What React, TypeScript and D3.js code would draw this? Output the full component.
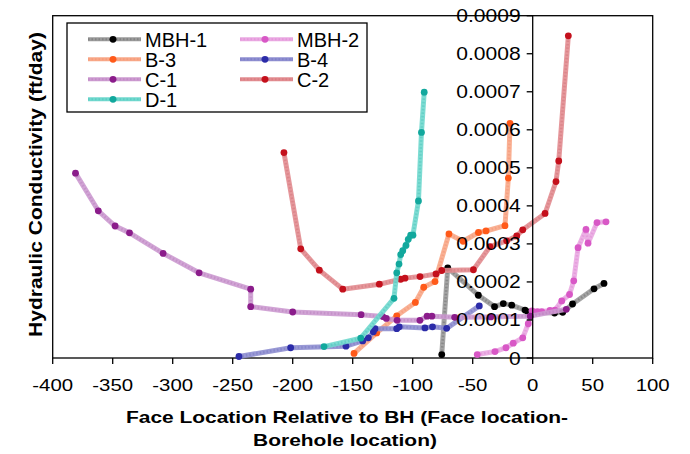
import React from "react";
import * as d3 from "d3";

// ---- data (x: face location relative to BH, y: hydraulic conductivity ft/day) ----
const mbh1X = [-75.8, -70.8, -45.3, -31.8, -24.5, -17.5, -6.4, -3.9, 18.2, 25, 33.2, 51.1, 59.4];
const mbh1Y = [0.000009, 0.000237, 0.000165, 0.000135, 0.000143, 0.000139, 0.000126, 0.000121, 0.000118, 0.00012, 0.000142, 0.000182, 0.000196];

const mbh2X = [-46.2, -31.4, -22.3, -16.2, -8.3, -3.7, -0.6, 4, 7.5, 14.4, 18.6, 24.2, 30.7, 34.2, 37.8, 44.4, 46.1, 53.6, 61.1];
const mbh2Y = [0.000009, 0.000017, 0.000027, 0.000039, 0.000053, 0.00009, 0.000124, 0.000122, 0.000122, 0.000125, 0.000126, 0.00015, 0.000167, 0.000203, 0.00029, 0.000338, 0.000302, 0.000356, 0.000358];

const b3X = [-148.9, -130, -113.3, -97.8, -90.8, -81.4, -69.8, -58, -45.2, -38.9, -23.1, -20.3, -18.9];
const b3Y = [0.000012, 0.000066, 0.000111, 0.000146, 0.000186, 0.000201, 0.000326, 0.000307, 0.00033, 0.000334, 0.000348, 0.000473, 0.000617];

const b4X = [-244.8, -201.7, -155.6, -141.7, -137, -132.8, -131.4, -113.3, -111.2, -89.8, -83.5, -71.7, -44.5];
const b4Y = [0.000004, 0.000027, 0.000031, 0.000045, 0.000053, 0.000069, 0.000077, 0.000077, 0.000082, 0.000079, 0.000082, 0.000078, 0.000137];

const c1X = [-381, -362, -348, -336, -308, -278, -235, -235, -200, -143, -125, -122, -113, -94, -88, -84, -65, -35, -2, 28];
const c1Y = [0.000486, 0.000387, 0.000347, 0.000329, 0.000275, 0.000224, 0.000181, 0.000135, 0.000121, 0.000114, 0.000109, 0.000104, 0.000099, 0.000099, 0.00011, 0.00011, 0.000107, 0.000108, 0.00011, 0.000128];

const c2X = [-207.3, -193.3, -177.8, -158.3, -127.8, -110, -106.4, -93.9, -80.6, -75.8, -49.4, -35.6, -21.7, -13.3, -8.3, 10.3, 19.4, 21.7, 29.7];
const c2Y = [0.00054, 0.000287, 0.000231, 0.000181, 0.000194, 0.000207, 0.00021, 0.000214, 0.000221, 0.00023, 0.000232, 0.000293, 0.000308, 0.000321, 0.000337, 0.00038, 0.000464, 0.000518, 0.000847];

const d1X = [-173.9, -143.3, -115.6, -113.3, -111.4, -110, -108.3, -105.6, -103.7, -101.7, -99.8, -95.2, -92.7, -90.4];
const d1Y = [0.00003, 0.000052, 0.000157, 0.000224, 0.000247, 0.000272, 0.000282, 0.000296, 0.000312, 0.000323, 0.000323, 0.000413, 0.000593, 0.000699];

const seriesNames = ["MBH-1", "MBH-2", "B-3", "B-4", "C-1", "C-2", "D-1"];
const xTicks = [-400, -350, -300, -250, -200, -150, -100, -50, 0, 50, 100];
const yTicks = [0, 0.0001, 0.0002, 0.0003, 0.0004, 0.0005, 0.0006, 0.0007, 0.0008, 0.0009];

const seriesData = [
  { name: "MBH-1", xs: mbh1X, ys: mbh1Y, line: "#9a9a9a", dash: "#6e6e6e", dot: "#000000" },
  { name: "MBH-2", xs: mbh2X, ys: mbh2Y, line: "#eaa8e2", dash: "#de8ad4", dot: "#d858c6" },
  { name: "B-3", xs: b3X, ys: b3Y, line: "#f8a888", dash: "#f59272", dot: "#ff5a1a" },
  { name: "B-4", xs: b4X, ys: b4Y, line: "#8e8ed0", dash: "#7676c2", dot: "#2b2ba8" },
  { name: "C-1", xs: c1X, ys: c1Y, line: "#cc9ad0", dash: "#b97fbe", dot: "#8b1c8b" },
  { name: "C-2", xs: c2X, ys: c2Y, line: "#e28c90", dash: "#d3737a", dot: "#c4101c" },
  { name: "D-1", xs: d1X, ys: d1Y, line: "#70d8ce", dash: "#4cc6bb", dot: "#12a89d" },
];

const W = 690;
const H = 454;
const plotL = 52.7, plotR = 652.7, plotT = 15.7, plotB = 358;

export default function App() {
  const x = d3.scaleLinear().domain([-400, 100]).range([plotL, plotR]);
  const y = d3.scaleLinear().domain([0, 0.0009]).range([plotB, plotT]);
  const line = d3.line<[number, number]>().x((d) => x(d[0])).y((d) => y(d[1]));
  const font = "'Liberation Sans', Arial, sans-serif";
  const yAxisX = x(0);

  const legendPos = seriesNames.map((n, i) => {
    const order = ["MBH-1", "MBH-2", "B-3", "B-4", "C-1", "C-2", "D-1"];
    const k = order.indexOf(n);
    return { col: k % 2, row: Math.floor(k / 2) };
  });

  return (
    <svg width={W} height={H} style={{ position: "absolute", left: 0, top: 0, background: "#fff" }} fontFamily={font}>
      <rect x={0} y={0} width={W} height={H} fill="#fff" />
      {/* frame */}
      <rect x={plotL} y={plotT} width={plotR - plotL} height={plotB - plotT} fill="none" stroke="#000" strokeWidth={1.3} />

      {/* series */}
      {seriesData.map((s) => {
        const pts = s.xs.map((v, i) => [v, s.ys[i]] as [number, number]);
        const p = line(pts) || "";
        return (
          <g key={s.name}>
            <path d={p} fill="none" stroke={s.line} strokeWidth={5} strokeLinejoin="round" opacity={0.9} />
            <path d={p} fill="none" stroke={s.dash} strokeWidth={2.5} strokeDasharray="1.5,2" opacity={0.5} />
            {pts.map((d, i) => (
              <circle key={i} cx={x(d[0])} cy={y(d[1])} r={3.4} fill={s.dot} />
            ))}
          </g>
        );
      })}

      {/* y axis at x=0 */}
      <line x1={yAxisX} x2={yAxisX} y1={plotT} y2={plotB} stroke="#000" strokeWidth={1.3} />
      {yTicks.map((t) => (
        <g key={t}>
          <line x1={yAxisX - 6} x2={yAxisX} y1={y(t)} y2={y(t)} stroke="#000" strokeWidth={1.3} />
          <text
            transform={`translate(${yAxisX - 12},${y(t) + 6.5}) scale(1.17,1)`}
            textAnchor="end"
            fontSize={18}
            fill="#000"
          >
            {t === 0 ? "0" : t.toFixed(4)}
          </text>
        </g>
      ))}

      {/* x axis ticks */}
      {xTicks.map((t) => (
        <g key={t}>
          <line x1={x(t)} x2={x(t)} y1={plotB} y2={plotB + 6} stroke="#000" strokeWidth={1.3} />
          <text transform={`translate(${x(t)},${391}) scale(1.2,1)`} textAnchor="middle" fontSize={17} fill="#000">
            {t}
          </text>
        </g>
      ))}

      {/* axis titles */}
      <text transform={`translate(347,423) scale(1.27,1)`} textAnchor="middle" fontSize={16.5} fontWeight="bold">
        Face Location Relative to BH (Face location-
      </text>
      <text transform={`translate(345,446) scale(1.27,1)`} textAnchor="middle" fontSize={16.5} fontWeight="bold">
        Borehole location)
      </text>
      <text
        transform={`translate(41.5,184.5) rotate(-90)`}
        textAnchor="middle"
        fontSize={18}
        fontWeight="bold"
        textLength={305}
        lengthAdjust="spacingAndGlyphs"
      >
        Hydraulic Conductivity (ft/day)
      </text>

      {/* legend */}
      <rect x={67} y={23} width={300} height={89} fill="#fff" stroke="#000" strokeWidth={1.3} />
      {seriesData.map((s, i) => {
        const { col, row } = legendPos[i];
        const lx = col === 0 ? 88 : 240;
        const cy = 39.3 + row * 20;
        return (
          <g key={s.name}>
            <line x1={lx} x2={lx + 53} y1={cy} y2={cy} stroke={s.line} strokeWidth={4} />
            <line x1={lx} x2={lx + 53} y1={cy} y2={cy} stroke={s.dash} strokeWidth={2} strokeDasharray="1.5,2" opacity={0.5} />
            <circle cx={lx + 25} cy={cy} r={3.4} fill={s.dot} />
            <text x={lx + 57} y={cy + 7.3} fontSize={20} fill="#000">
              {s.name}
            </text>
          </g>
        );
      })}
    </svg>
  );
}
